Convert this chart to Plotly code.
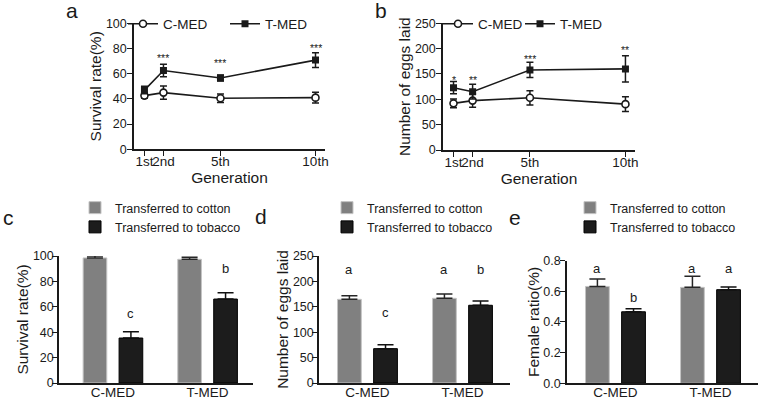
import plotly.graph_objects as go

# ---- data ---------------------------------------------------------------
gens = [1, 2, 5, 10]
gen_labels = ["1st", "2nd", "5th", "10th"]

surv_c = [42.6, 45.0, 40.5, 41.0]
surv_c_err = [2.0, 5.3, 3.4, 4.2]
surv_t = [47.0, 62.5, 56.6, 70.8]
surv_t_err = [3.0, 5.0, 2.4, 5.8]
surv_stars = ["", "***", "***", "***"]
surv_star_y = [None, 75, 71, 83]

eggs_c = [92.0, 97.5, 103.0, 90.5]
eggs_c_err = [8.5, 13.0, 14.0, 14.5]
eggs_t = [123.0, 115.0, 158.0, 160.0]
eggs_t_err = [12.0, 14.5, 15.0, 26.0]
eggs_stars = ["*", "**", "***", "**"]
eggs_star_y = [145, 145, 186, 203]

groups = ["C-MED", "T-MED"]

c_cotton = [98.5, 97.4]
c_cotton_err = [1.5, 1.6]
c_tobacco = [35.4, 66.1]
c_tobacco_err = [5.0, 5.0]
c_cotton_lbl, c_cotton_lbl_y = ["a", "a"], [109, 109]
c_tobacco_lbl, c_tobacco_lbl_y = ["c", "b"], [55, 90]

d_cotton = [164.7, 166.7]
d_cotton_err = [7.2, 8.3]
d_tobacco = [67.6, 153.0]
d_tobacco_err = [7.9, 8.4]
d_cotton_lbl, d_cotton_lbl_y = ["a", "a"], [224, 224]
d_tobacco_lbl, d_tobacco_lbl_y = ["c", "b"], [138, 224]

e_cotton = [0.631, 0.625]
e_cotton_err = [0.049, 0.072]
e_tobacco = [0.466, 0.610]
e_tobacco_err = [0.020, 0.017]
e_cotton_lbl, e_cotton_lbl_y = ["a", "a"], [0.747, 0.747]
e_tobacco_lbl, e_tobacco_lbl_y = ["b", "a"], [0.557, 0.747]

# ---- style ---------------------------------------------------------------
W, H = 760, 401
FONT = "Arial, 'Liberation Sans', sans-serif"
INK = "#1a1a1a"
GRAY = "#808080"
BLACK = "#1c1c1c"
OFF = 0.19      # half distance between paired bars
BAR_W = 0.25


def px(x):
    return x / W


def py(y):
    return 1 - y / H


def yaxis(dom, rng, dtick, title, anchor, fmt=None, lbl_off=-2):
    d = dict(domain=[py(dom[0]), py(dom[1])], range=rng, dtick=dtick,
             anchor=anchor, showline=True, linecolor=INK, linewidth=1.5,
             ticks="outside", ticklen=5, tickwidth=1.3, tickcolor=INK,
             ticklabelstandoff=lbl_off,
             showgrid=False, zeroline=False, automargin=False,
             tickfont=dict(size=12.5, color=INK),
             title=dict(text=title, font=dict(size=15.5, color=INK),
                        standoff=0))
    if fmt:
        d["tickformat"] = fmt
    return d


def xaxis(dom, rng, anchor, tickvals, ticktext, ticks, title=None):
    d = dict(domain=[px(dom[0]), px(dom[1])], range=rng, anchor=anchor,
             showline=True, linecolor=INK, linewidth=1.5,
             tickvals=tickvals, ticktext=ticktext, tickangle=0,
             ticks=ticks, ticklen=5, tickwidth=1.3, tickcolor=INK,
             showgrid=False, zeroline=False, automargin=False,
             tickfont=dict(size=13.5, color=INK))
    if title:
        d["title"] = dict(text=title, font=dict(size=15.5, color=INK),
                          standoff=0)
        d["ticklabelstandoff"] = -6
    else:
        d["ticklabelstandoff"] = -4
    return d


fig = go.Figure()
ann = []


def line_panel(xa, ya, leg, c_vals, c_err, t_vals, t_err, stars, star_y):
    fig.add_trace(go.Scatter(
        x=gens, y=c_vals, name="C-MED", mode="lines+markers",
        xaxis=xa, yaxis=ya, legend=leg,
        line=dict(color=INK, width=1.6),
        marker=dict(symbol="circle", size=7, color="white",
                    line=dict(color=INK, width=1.6)),
        error_y=dict(type="data", array=c_err, color=INK,
                     thickness=1.5, width=3.5)))
    fig.add_trace(go.Scatter(
        x=gens, y=t_vals, name="T-MED", mode="lines+markers",
        xaxis=xa, yaxis=ya, legend=leg,
        line=dict(color=INK, width=1.6),
        marker=dict(symbol="square", size=7, color=INK),
        error_y=dict(type="data", array=t_err, color=INK,
                     thickness=1.5, width=3.5)))
    for g, s, sy in zip(gens, stars, star_y):
        if s:
            ann.append(dict(x=g, y=sy, xref=xa, yref=ya, text=s,
                            showarrow=False, yshift=-3,
                            font=dict(size=10.5, color="#222")))


def bar_panel(xa, ya, leg, cot, cot_err, tob, tob_err, cot_lbl, cot_y,
              tob_lbl, tob_y):
    idx = list(range(len(groups)))
    xc = [i - OFF for i in idx]
    xt = [i + OFF for i in idx]
    fig.add_trace(go.Bar(
        x=xc, y=cot, width=BAR_W, name="Transferred to cotton",
        xaxis=xa, yaxis=ya, legend=leg,
        marker=dict(color=GRAY, line=dict(color="#c4c4c4", width=1)),
        error_y=dict(type="data", array=cot_err, arrayminus=[0] * len(cot),
                     symmetric=False, color="#262626", thickness=1.5,
                     width=8)))
    fig.add_trace(go.Bar(
        x=xt, y=tob, width=BAR_W, name="Transferred to tobacco",
        xaxis=xa, yaxis=ya, legend=leg,
        marker=dict(color=BLACK, line=dict(color="#000", width=1)),
        error_y=dict(type="data", array=tob_err, arrayminus=[0] * len(tob),
                     symmetric=False, color="#111", thickness=1.5,
                     width=8)))
    for xs, labs, ys in ((xc, cot_lbl, cot_y), (xt, tob_lbl, tob_y)):
        for x, t, y in zip(xs, labs, ys):
            ann.append(dict(x=x, y=y, xref=xa, yref=ya, text=t,
                            showarrow=False, font=dict(size=13, color=INK)))


line_panel("x", "y", "legend", surv_c, surv_c_err, surv_t, surv_t_err,
           surv_stars, surv_star_y)
line_panel("x2", "y2", "legend2", eggs_c, eggs_c_err, eggs_t, eggs_t_err,
           eggs_stars, eggs_star_y)
bar_panel("x3", "y3", "legend3", c_cotton, c_cotton_err, c_tobacco,
          c_tobacco_err, c_cotton_lbl, c_cotton_lbl_y, c_tobacco_lbl,
          c_tobacco_lbl_y)
bar_panel("x4", "y4", "legend4", d_cotton, d_cotton_err, d_tobacco,
          d_tobacco_err, d_cotton_lbl, d_cotton_lbl_y, d_tobacco_lbl,
          d_tobacco_lbl_y)
bar_panel("x5", "y5", "legend5", e_cotton, e_cotton_err, e_tobacco,
          e_tobacco_err, e_cotton_lbl, e_cotton_lbl_y, e_tobacco_lbl,
          e_tobacco_lbl_y)

# panel letters
for t, x, y in (("a", 72, 11), ("b", 381, 11), ("c", 8, 217),
                ("d", 261, 216), ("e", 515, 217)):
    ann.append(dict(x=px(x), y=py(y), xref="paper", yref="paper", text=t,
                    xanchor="center", yanchor="middle",
                    showarrow=False, font=dict(size=21, color=INK)))

idx = list(range(len(groups)))
LEG_LINE = dict(orientation="h", xanchor="left", yanchor="middle",
                bgcolor="rgba(0,0,0,0)", font=dict(size=13.5, color=INK),
                entrywidthmode="pixels")
LEG_BAR = dict(orientation="v", xanchor="left", yanchor="top",
               bgcolor="rgba(0,0,0,0)", font=dict(size=12.5, color=INK))

fig.update_layout(
    template="none",
    width=W, height=H, margin=dict(l=0, r=0, t=0, b=0, autoexpand=False),
    paper_bgcolor="white", plot_bgcolor="white",
    font=dict(family=FONT, color=INK),
    barmode="overlay", showlegend=True,
    xaxis=xaxis((134, 325), [0.45, 10.5], "y", gens, gen_labels, "outside",
                "Generation"),
    yaxis=yaxis((149.3, 23.3), [0, 100], 20, "Survival rate(%)", "x"),
    xaxis2=xaxis((443, 635), [0.45, 10.5], "y2", gens, gen_labels, "outside",
                 "Generation"),
    yaxis2=yaxis((150, 23.3), [0, 250], 50, "Number of eggs laid", "x2"),
    xaxis3=xaxis((59, 253), [-0.57, 1.48], "y3", idx, groups, ""),
    yaxis3=yaxis((383, 256), [0, 100], 20, "Survival rate(%)", "x3",
                 lbl_off=-4),
    xaxis4=xaxis((319, 510), [-0.51, 1.5], "y4", idx, groups, ""),
    yaxis4=yaxis((383, 256), [0, 250], 50, "Number of eggs laid", "x4",
                 lbl_off=-4),
    xaxis5=xaxis((567, 758), [-0.51, 1.5], "y5", idx, groups, ""),
    yaxis5=yaxis((383.3, 260.5), [0, 0.8], 0.2, "Female ratio(%)", "x5",
                 fmt=".1f", lbl_off=-3),
    legend=dict(LEG_LINE, x=px(123), y=py(24), entrywidth=57),
    legend2=dict(LEG_LINE, x=px(438), y=py(24), entrywidth=37),
    legend3=dict(LEG_BAR, x=px(75), y=py(193)),
    legend4=dict(LEG_BAR, x=px(327), y=py(193)),
    legend5=dict(LEG_BAR, x=px(570), y=py(193)),
    annotations=ann,
)

# page body has an 8px default margin; drop it so the figure sits at 0,0
fig.write_html("out.html", config={"displayModeBar": False},
               post_script="document.body.style.margin='0px';")
